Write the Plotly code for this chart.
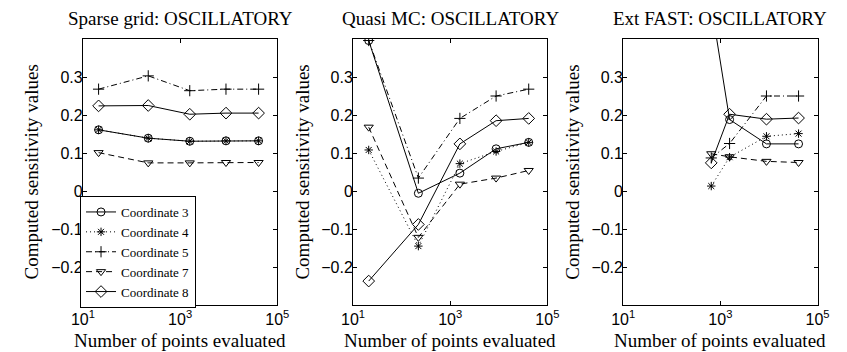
import plotly.graph_objects as go

# Number of function evaluations per method
n_sparse = [21, 221, 1581, 8801, 41265]
n_qmc = [21, 221, 1581, 8801, 41265]
n_fast = [650, 1550, 8900, 40700]

# Sparse grid sensitivity estimates
sg_c3 = [0.161, 0.139, 0.131, 0.132, 0.132]
sg_c4 = [0.161, 0.139, 0.131, 0.132, 0.132]
sg_c5 = [0.268, 0.303, 0.264, 0.268, 0.268]
sg_c7 = [0.101, 0.074, 0.074, 0.075, 0.075]
sg_c8 = [0.224, 0.225, 0.202, 0.205, 0.205]

# Quasi Monte Carlo sensitivity estimates
qmc_c3 = [0.396, -0.006, 0.047, 0.111, 0.128]
qmc_c4 = [0.108, -0.145, 0.072, 0.104, 0.128]
qmc_c5 = [0.396, 0.034, 0.191, 0.250, 0.268]
qmc_c7 = [0.168, -0.122, 0.018, 0.034, 0.054]
qmc_c8 = [-0.237, -0.088, 0.124, 0.185, 0.191]

# Extended FAST sensitivity estimates
fast_c3 = [0.49, 0.188, 0.124, 0.124]
fast_c4 = [0.013, 0.089, 0.144, 0.151]
fast_c5 = [0.087, 0.125, 0.250, 0.250]
fast_c7 = [0.098, 0.090, 0.078, 0.075]
fast_c8 = [0.074, 0.202, 0.189, 0.192]

titles = ["Sparse grid: OSCILLATORY", "Quasi MC: OSCILLATORY", "Ext FAST: OSCILLATORY"]
names = ["Coordinate 3", "Coordinate 4", "Coordinate 5", "Coordinate 7", "Coordinate 8"]
yticks = [-0.2, -0.1, 0, 0.1, 0.2, 0.3]
ytick_text = ["\u22120.2", "\u22120.1", "0", "0.1", "0.2", "0.3"]
xticks = [10, 1000, 100000]
xtick_text = ["10<sup>1</sup>", "10<sup>3</sup>", "10<sup>5</sup>"]

styles = [
    dict(symbol="circle-open", dash="solid", size=8),
    dict(symbol="asterisk-open", dash="1px,3px", size=7),
    dict(symbol="cross-thin-open", dash="6px,3px,1px,3px", size=8),
    dict(symbol="triangle-down-open", dash="6px,4px", size=8),
    dict(symbol="diamond-open", dash="solid", size=9),
]

panels = [
    (n_sparse, [sg_c3, sg_c4, sg_c5, sg_c7, sg_c8]),
    (n_qmc, [qmc_c3, qmc_c4, qmc_c5, qmc_c7, qmc_c8]),
    (n_fast, [fast_c3, fast_c4, fast_c5, fast_c7, fast_c8]),
]

W, H = 847, 352
x_px = [(73, 273), (351, 551), (629, 829)]
y_top, y_bot = 39, 305

SERIF = "Liberation Serif"
SANS = "Liberation Sans"
label_font = dict(family=SERIF, size=19, color="black")

fig = go.Figure()
annotations = []
for i, (xs, series) in enumerate(panels):
    k = "" if i == 0 else str(i + 1)
    for j, (ys, st) in enumerate(zip(series, styles)):
        fig.add_trace(go.Scatter(
            x=xs, y=ys, name=names[j], mode="lines+markers",
            xaxis="x" + k, yaxis="y" + k,
            line=dict(color="black", width=1, dash=st["dash"]),
            marker=dict(symbol=st["symbol"], size=st["size"], color="black",
                        line=dict(color="black", width=1)),
            showlegend=(i == 0),
        ))
    x0, x1 = x_px[i]
    common = dict(showline=True, linecolor="black", linewidth=1, mirror="ticks",
                  ticks="inside", ticklen=4, tickcolor="black", showgrid=False,
                  zeroline=False, tickfont=dict(family=SANS, size=16, color="black"))
    fig.update_layout(**{
        "xaxis" + k: dict(type="log", range=[1, 5], tickvals=xticks, ticktext=xtick_text,
                          domain=[x0 / W, x1 / W], anchor="y" + k, **common),
        "yaxis" + k: dict(range=[-0.3, 0.4], tickvals=yticks, ticktext=ytick_text,
                          domain=[1 - y_bot / H, 1 - y_top / H], anchor="x" + k,
                          ticklabelstandoff=-4, **common),
    })
    cx = (x0 + x1) / 2 / W
    annotations.append(dict(text=titles[i], x=cx, y=1 - 19 / H, xref="paper", yref="paper",
                            xanchor="center", yanchor="middle", showarrow=False,
                            font=label_font))
    annotations.append(dict(text="Number of points evaluated", x=cx, y=1 - 340 / H,
                            xref="paper", yref="paper", xanchor="center", yanchor="middle",
                            showarrow=False, font=label_font))
    annotations.append(dict(text="Computed sensitivity values", x=(x0 - 53) / W,
                            y=1 - (y_top + y_bot) / 2 / H, xref="paper", yref="paper",
                            xanchor="center", yanchor="middle",
                            showarrow=False, textangle=-90, font=label_font))

fig.update_layout(
    width=W, height=H, margin=dict(l=0, r=0, t=0, b=0),
    plot_bgcolor="white", paper_bgcolor="white",
    annotations=annotations,
    legend=dict(x=70 / W, y=1 - 196 / H, xanchor="left", yanchor="top",
                bgcolor="white", bordercolor="black", borderwidth=1,
                font=dict(family=SERIF, size=13, color="black"),
                tracegroupgap=0, itemwidth=30),
)

fig.write_html("out.html")
